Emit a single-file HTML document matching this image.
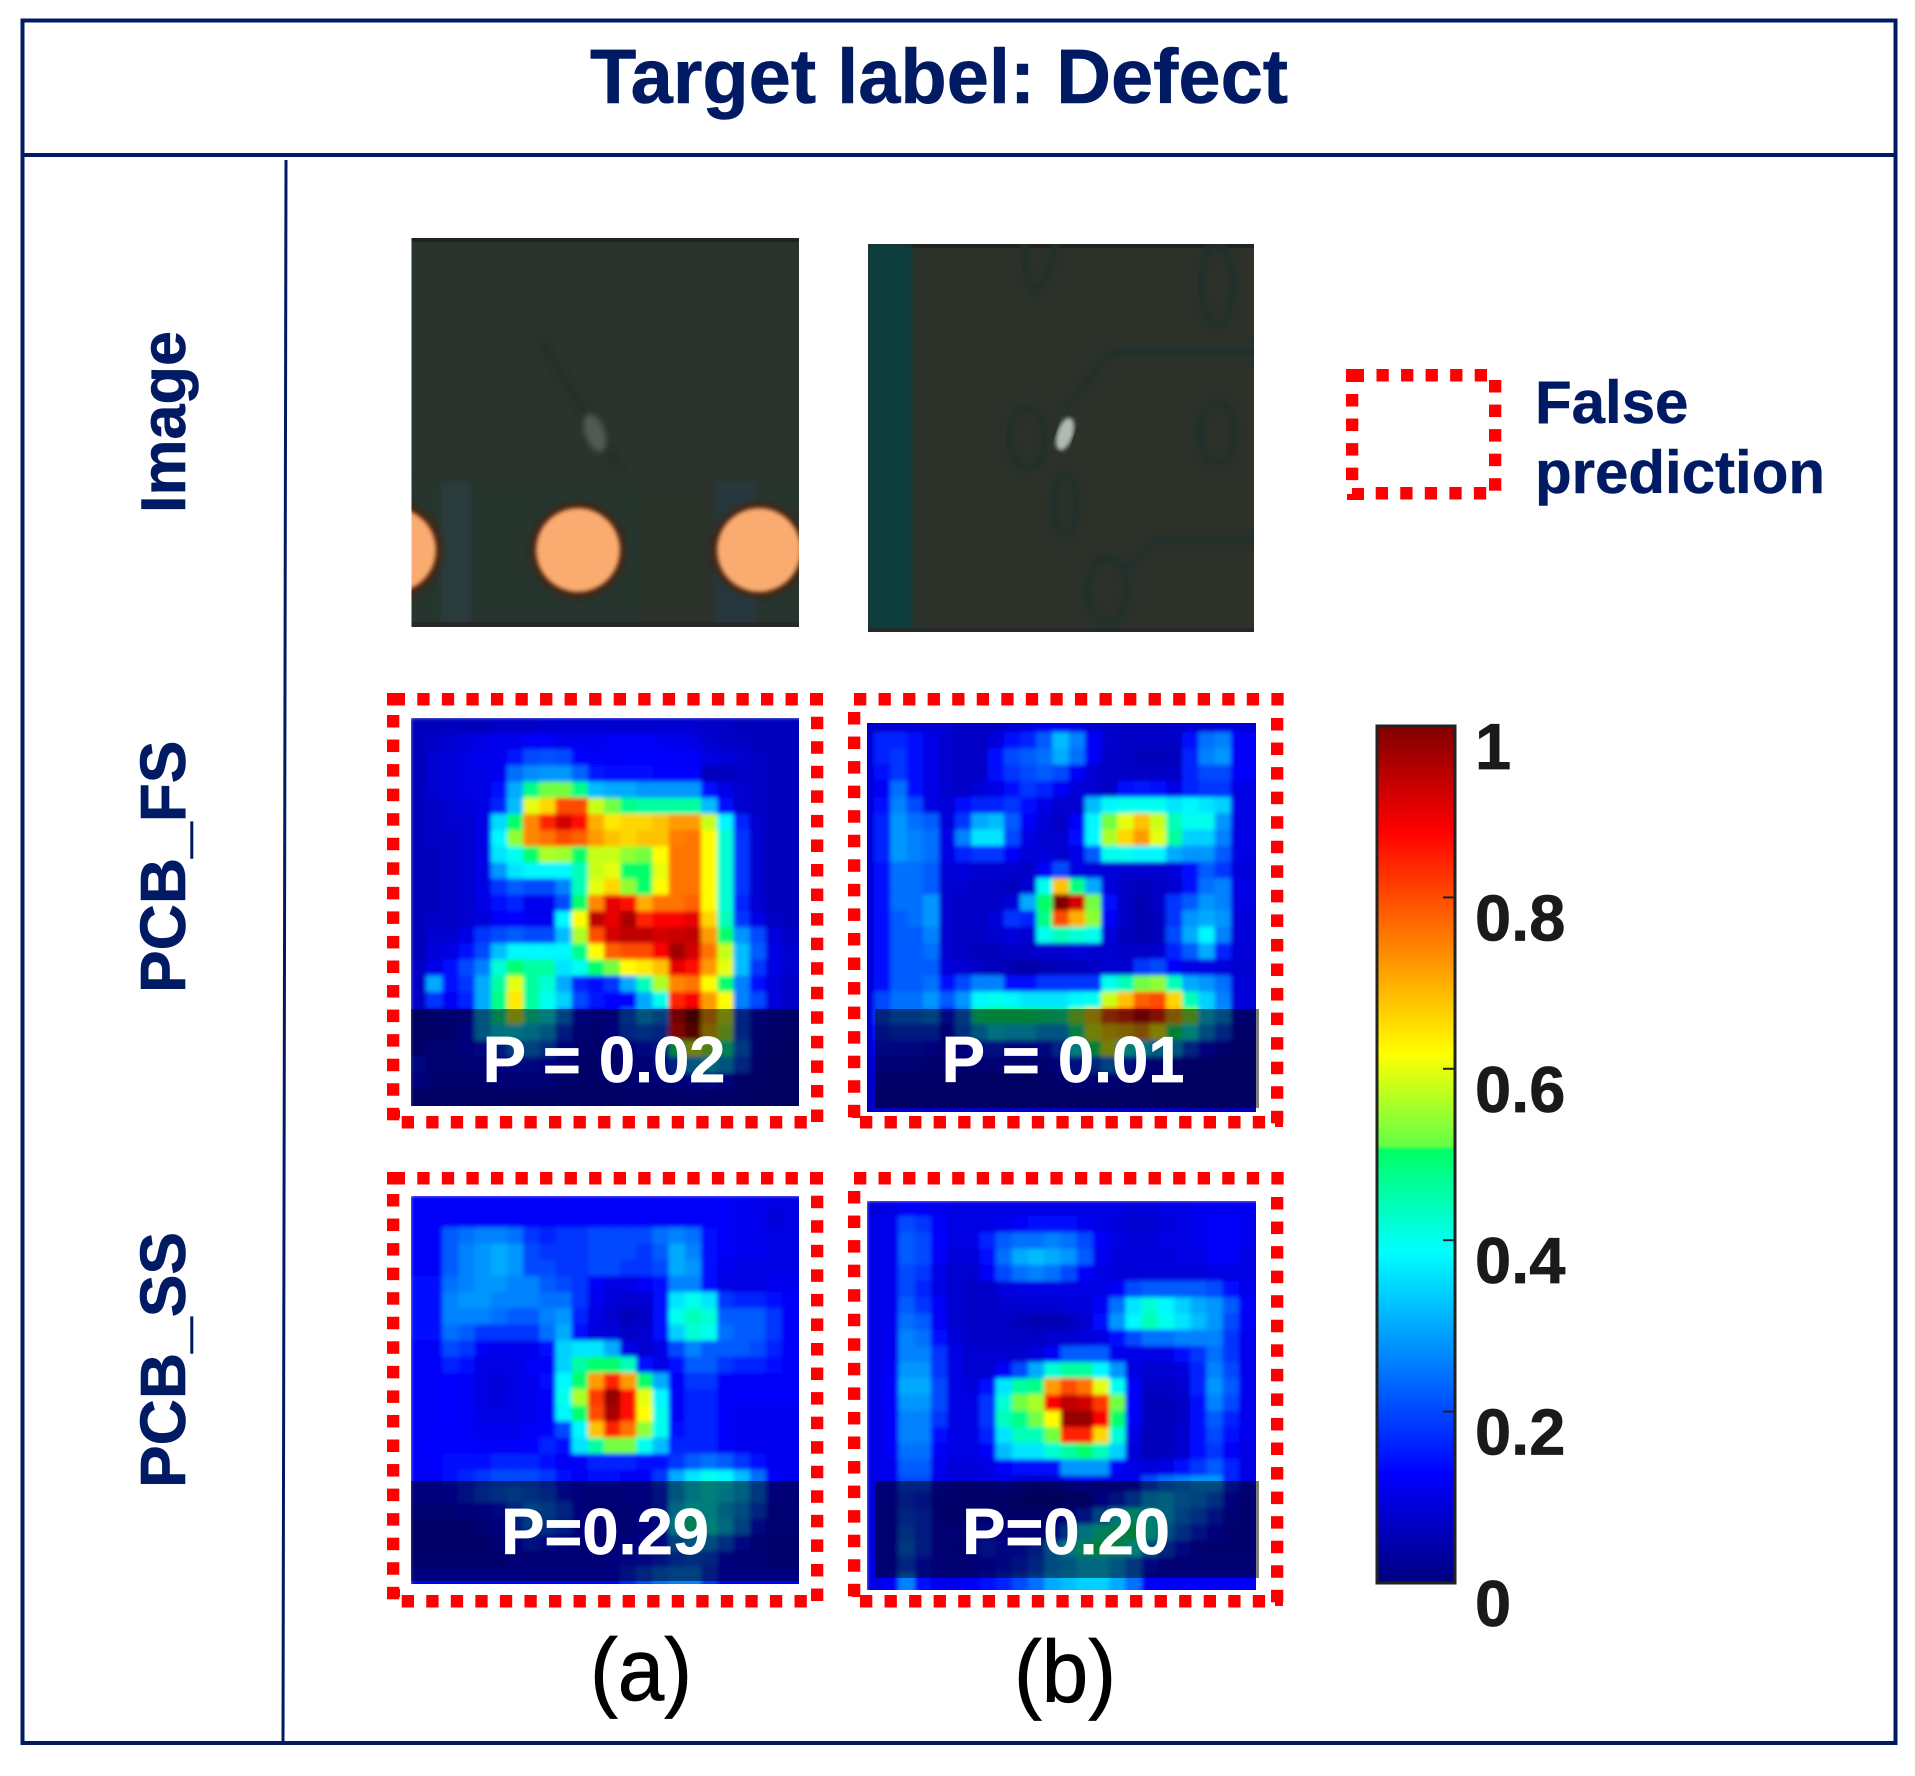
<!DOCTYPE html>
<html lang="en">
<head>
<meta charset="utf-8">
<title>Target label: Defect</title>
<style>
html,body{margin:0;padding:0;background:#fff;}
svg{display:block;font-family:"Liberation Sans",Arial,sans-serif;}
</style>
</head>
<body>
<svg id="fig" xmlns="http://www.w3.org/2000/svg" width="1915" height="1776" viewBox="0 0 1915 1776">
  <defs>
    <filter id="soft" x="-5%" y="-5%" width="110%" height="110%"><feGaussianBlur stdDeviation="2"/></filter>
    <filter id="soft3" x="-20%" y="-20%" width="140%" height="140%"><feGaussianBlur stdDeviation="3"/></filter>
    <filter id="softWide" x="-5%" y="-5%" width="110%" height="110%"><feGaussianBlur stdDeviation="6"/></filter>
    <clipPath id="clip-img-a"><rect x="411.5" y="238" width="387.5" height="389"/></clipPath>
    <clipPath id="clip-img-b"><rect x="868" y="244" width="386" height="388"/></clipPath>
    <linearGradient id="jet-gradient" x1="0" y1="1" x2="0" y2="0"></linearGradient>
  </defs>

  <rect x="22.5" y="20.5" width="1873" height="1722.5" fill="none" stroke="#001a63" stroke-width="4"/>
  <line x1="22" y1="155" x2="1895" y2="155" stroke="#001a63" stroke-width="4"/>
  <line x1="286" y1="160" x2="283" y2="1743" stroke="#001a63" stroke-width="3"/>

  <text x="590" y="103" font-size="77" font-weight="700" fill="#001a63" stroke="#001a63" stroke-width="0.6" textLength="698" lengthAdjust="spacingAndGlyphs">Target label: Defect</text>

  <text transform="translate(185,513) rotate(-90)" font-size="63" font-weight="700" fill="#001a63" stroke="#001a63" stroke-width="0.6">Image</text>
  <text transform="translate(185,993) rotate(-90)" font-size="64" font-weight="700" fill="#001a63" stroke="#001a63" stroke-width="0.6">PCB_FS</text>
  <text transform="translate(185,1488) rotate(-90)" font-size="64" font-weight="700" fill="#001a63" stroke="#001a63" stroke-width="0.6">PCB_SS</text>

  <!-- source image a -->
  <g clip-path="url(#clip-img-a)">
    <rect x="411" y="238" width="389" height="389" fill="#2a332c"/>
    <rect x="411" y="238" width="389" height="4" fill="#1f2421"/>
    <g filter="url(#soft3)">
      <rect x="411" y="482" width="389" height="150" fill="#27342f"/>
      <rect x="440" y="482" width="30" height="150" fill="#2a3a3a"/>
      <rect x="640" y="482" width="90" height="150" fill="#2b332b"/>
      <rect x="715" y="482" width="40" height="150" fill="#27383c"/>
    </g>
    <rect x="411" y="622" width="389" height="5" fill="#26282a"/>
    <line x1="540" y1="340" x2="620" y2="470" stroke="#262e28" stroke-width="8" filter="url(#soft3)"/>
    <ellipse cx="595" cy="433" rx="10" ry="20" fill="#4f5a54" filter="url(#soft3)" transform="rotate(-20 595 433)"/>
    <circle cx="394" cy="550" r="48" fill="#4a2410" filter="url(#soft3)"/>
    <circle cx="578" cy="550" r="47" fill="#4a2410" filter="url(#soft3)"/>
    <circle cx="759" cy="550" r="47" fill="#4a2410" filter="url(#soft3)"/>
    <circle cx="394" cy="550" r="42" fill="#f9ab70" filter="url(#soft)"/>
    <circle cx="578" cy="550" r="42" fill="#f9ab70" filter="url(#soft)"/>
    <circle cx="759" cy="550" r="42" fill="#f9ab70" filter="url(#soft)"/>
  </g>

  <!-- source image b -->
  <g clip-path="url(#clip-img-b)">
    <rect x="868" y="244" width="386" height="388" fill="#2c322a"/>
    <rect x="868" y="244" width="386" height="4" fill="#1f2421"/>
    <rect x="868" y="244" width="44" height="388" fill="#0f3d3c" filter="url(#soft)"/>
    <rect x="868" y="628" width="386" height="4" fill="#26282a"/>
    <g transform="translate(-5,0)" fill="none" stroke="#222e2a" stroke-width="8" filter="url(#soft3)">
      <path d="M1030 240 Q1028 285 1040 292 Q1052 285 1062 240"/>
      <ellipse cx="1222" cy="285" rx="16" ry="40"/>
      <path d="M1262 352 L1125 352 Q1110 352 1100 372 L1070 410"/>
      <ellipse cx="1032" cy="438" rx="18" ry="30"/>
      <ellipse cx="1222" cy="433" rx="18" ry="30"/>
      <path d="M1262 540 L1160 540 L1125 575"/>
      <ellipse cx="1112" cy="590" rx="20" ry="32"/>
      <ellipse cx="1070" cy="505" rx="12" ry="30"/>
    </g>
    <path d="M1100 330 L1217 330" stroke="#2a2a34" stroke-width="12" filter="url(#soft3)"/>
    <ellipse cx="1065" cy="434" rx="8" ry="17" fill="#b0bcb2" filter="url(#soft)" transform="rotate(18 1065 434)"/>
  </g>

  <!-- legend text -->
  <g id="legend-swatch"></g>
  <text x="1535" y="423" font-size="60" font-weight="700" fill="#001a63" stroke="#001a63" stroke-width="0.5">False</text>
  <text x="1535" y="493" font-size="60" font-weight="700" fill="#001a63" stroke="#001a63" stroke-width="0.5">prediction</text>

  <g id="heatmaps"></g>
  <g id="frames"></g>

  <g id="colorbar"></g>

  <text x="590" y="1700" font-size="88" fill="#000" stroke="#000" stroke-width="0.8" textLength="102" lengthAdjust="spacingAndGlyphs">(a)</text>
  <text x="1014" y="1702" font-size="88" fill="#000" stroke="#000" stroke-width="0.8" textLength="102" lengthAdjust="spacingAndGlyphs">(b)</text>
</svg>

<script>
const colorbarTicks = [1, 0.8, 0.6, 0.4, 0.2, 0];
const colorbarTickLabels = ["1", "0.8", "0.6", "0.4", "0.2", "0"];

const fsImageA = [
[6,6,6,6,6,7,7,7,8,8,8,8,8,8,8,8,8,8,7,7,6,6,6,6],
[6,7,8,9,10,11,11,12,12,11,11,11,12,12,12,11,11,10,8,7,7,6,6,6],
[6,8,9,10,11,11,15,20,21,20,13,12,12,13,13,13,12,12,10,9,8,7,6,6],
[6,8,9,10,10,11,24,27,28,28,23,15,14,14,14,13,13,13,6,6,7,7,6,6],
[6,8,9,10,10,14,30,48,52,52,48,32,30,30,28,28,28,28,14,10,8,7,6,6],
[6,7,8,9,10,16,32,60,66,80,80,58,52,48,46,46,46,46,32,14,8,7,6,6],
[6,7,8,8,10,35,50,74,84,92,86,70,64,66,66,68,72,72,58,38,16,8,6,6],
[6,7,7,8,10,38,54,74,76,80,78,72,68,66,68,68,75,76,62,42,18,8,6,6],
[6,6,7,8,10,36,40,50,56,55,50,58,58,54,52,62,76,76,62,42,18,8,6,6],
[6,6,7,8,10,28,36,38,38,38,44,58,60,50,50,60,76,76,62,42,18,8,6,6],
[6,6,7,8,10,18,22,20,20,26,44,60,66,54,50,62,76,76,62,42,18,8,6,6],
[6,6,7,8,10,14,16,11,11,20,50,74,90,86,70,76,76,78,62,42,16,8,6,6],
[6,7,7,8,9,12,13,11,11,38,62,94,90,96,84,88,88,90,66,44,18,10,7,6],
[6,8,8,10,18,20,22,20,20,32,56,80,92,94,94,92,93,94,72,50,28,20,9,7],
[6,9,10,14,20,32,38,38,38,38,48,62,78,80,80,88,97,92,76,58,32,22,10,8],
[7,10,14,20,26,42,50,46,46,36,40,50,52,62,64,68,90,86,72,60,32,18,10,8],
[7,30,14,18,30,46,60,46,42,30,16,14,18,30,44,56,74,76,62,50,26,14,9,7],
[7,18,12,16,30,48,64,46,40,34,20,15,13,13,30,40,84,88,72,62,26,20,9,7],
[7,8,9,10,30,46,60,44,38,26,12,10,10,22,30,26,90,100,72,60,20,10,8,7],
[7,8,9,12,30,36,36,34,30,18,10,9,12,20,22,20,86,96,68,56,20,9,8,7],
[8,10,10,12,14,18,26,26,22,12,9,9,9,12,14,16,50,60,55,45,24,9,7,6],
[14,10,10,10,10,12,14,14,12,10,8,8,8,10,10,14,20,30,34,30,20,8,7,6],
[12,9,9,9,9,10,10,10,10,9,8,8,8,9,10,10,12,12,14,12,8,7,6,6],
[7,7,7,7,7,7,7,7,7,7,7,7,7,8,8,8,8,8,8,8,7,7,6,6]
];

const fsImageB = [
[7,8,8,8,8,8,7,7,7,8,10,11,11,10,8,7,7,7,7,7,8,8,9,9],
[9,16,16,14,10,8,7,7,9,14,16,22,32,26,12,8,7,7,7,7,14,24,26,12],
[9,16,18,14,10,8,7,7,14,20,22,24,30,24,12,7,7,6,6,6,16,26,28,12],
[9,14,18,14,10,8,7,7,14,18,20,22,20,12,8,7,7,7,7,7,16,20,20,12],
[9,12,24,14,10,8,7,9,10,14,18,16,12,9,8,7,14,15,14,10,16,18,18,10],
[9,14,26,20,10,9,14,16,16,18,14,10,8,8,32,38,40,40,40,36,38,36,34,10],
[9,16,28,24,22,9,18,30,32,22,12,9,7,12,38,52,60,68,58,44,40,40,28,10],
[9,16,28,26,24,10,26,36,36,20,10,8,8,14,38,56,66,72,60,46,34,34,26,10],
[9,16,28,26,24,10,16,18,18,12,9,9,8,10,22,40,40,38,38,30,28,28,22,10],
[9,14,24,24,22,9,9,8,8,8,7,12,20,10,9,9,8,8,8,9,14,22,18,9],
[9,14,24,24,22,8,8,7,7,6,8,40,68,48,30,9,7,6,7,8,14,24,26,10],
[9,14,24,24,28,8,7,7,7,9,30,50,100,92,52,14,7,5,7,18,22,28,26,10],
[9,14,22,24,28,8,7,7,9,18,16,48,80,70,54,12,7,5,6,18,28,30,28,9],
[9,14,22,22,26,8,7,7,8,9,8,40,44,42,40,9,6,5,6,20,30,38,26,9],
[9,14,22,22,24,8,7,6,6,7,7,8,8,9,8,8,7,7,8,16,22,30,16,9],
[9,14,22,22,22,9,8,7,6,5,4,5,6,6,7,8,8,18,20,12,10,10,9,8],
[9,14,22,22,24,14,20,26,26,14,14,18,18,18,18,40,44,52,54,44,30,28,24,9],
[9,20,24,24,28,22,28,38,40,38,36,36,36,38,40,58,68,78,80,66,44,34,26,9],
[9,20,24,24,26,14,24,48,50,50,50,48,46,54,66,80,84,92,84,70,54,34,28,9],
[9,16,18,18,18,10,22,30,36,34,34,30,30,48,60,66,68,72,62,50,40,28,20,8],
[8,14,14,14,12,9,12,16,16,14,14,14,20,38,50,60,40,36,32,30,20,12,9,7],
[7,10,10,10,9,8,9,10,10,9,9,9,12,16,20,26,16,12,9,8,7,7,6,6],
[7,8,8,8,8,7,7,7,7,7,7,8,9,10,10,10,9,8,7,6,6,6,6,6],
[7,7,7,7,7,7,7,7,7,7,7,7,7,7,7,7,7,7,7,7,6,6,6,6]
];

const ssImageA = [
[12,12,12,12,12,12,12,12,12,12,12,12,12,12,12,12,12,12,12,12,11,11,10,10],
[12,12,12,12,12,12,12,12,12,12,12,12,12,12,12,12,12,12,12,12,11,11,9,10],
[12,12,22,24,26,26,24,18,16,18,18,20,20,20,20,24,26,24,14,12,11,11,10,10],
[12,12,22,26,28,30,28,20,18,18,18,20,20,20,18,22,30,26,14,12,11,11,10,10],
[12,12,22,26,28,30,28,20,20,18,18,20,20,18,18,20,30,28,14,11,10,10,10,10],
[14,14,24,26,28,28,26,26,22,20,18,12,10,10,12,14,26,26,14,10,10,10,11,11],
[14,14,26,28,28,26,26,26,24,24,18,11,9,8,8,14,36,40,36,18,16,16,14,12],
[14,14,26,26,26,24,22,22,26,28,16,10,8,6,7,14,40,44,42,22,22,22,18,12],
[14,14,24,22,18,18,18,18,24,30,14,9,9,7,8,14,34,42,40,24,22,22,18,12],
[12,12,20,18,12,11,11,11,14,34,36,36,30,10,8,10,20,26,22,22,22,20,16,12],
[12,12,16,14,10,10,10,12,12,34,46,50,50,44,14,10,14,22,22,18,16,16,14,12],
[12,12,13,12,10,9,10,11,14,38,50,72,84,72,50,30,12,18,18,12,12,12,12,12],
[12,12,13,12,10,9,10,11,12,40,56,82,98,86,60,38,12,16,16,12,12,12,12,12],
[12,12,13,12,10,10,10,11,12,38,50,80,96,86,62,40,12,16,16,12,11,11,11,11],
[12,12,13,12,11,11,11,12,13,20,38,68,84,76,54,40,14,16,16,12,11,11,11,11],
[12,13,13,13,12,12,12,13,16,14,36,46,52,52,40,32,16,16,16,12,11,11,11,11],
[12,13,14,14,14,16,16,16,14,12,12,16,16,16,14,14,18,22,24,22,18,14,11,11],
[12,12,14,16,18,20,20,20,18,14,12,14,14,12,12,18,30,36,40,38,32,24,12,11],
[12,12,13,16,20,22,24,22,20,14,12,10,10,12,12,16,30,36,40,36,32,24,12,11],
[10,10,10,12,12,14,20,26,24,20,12,10,10,10,12,16,34,40,38,32,28,20,10,10],
[8,8,8,8,10,12,18,24,22,18,12,10,10,10,12,14,36,46,40,34,26,14,10,10],
[8,8,8,8,8,10,12,16,14,12,10,10,10,12,12,14,26,30,28,22,14,10,9,9],
[9,9,9,9,9,9,10,10,10,10,10,10,12,14,14,16,20,22,20,12,10,10,9,9],
[12,12,12,12,12,12,12,13,13,13,13,13,13,16,20,24,26,26,18,12,12,12,12,12]
];

const ssImageB = [
[9,10,12,12,11,10,10,10,10,10,10,10,10,10,10,10,9,9,10,10,11,11,11,11],
[10,11,20,18,12,10,10,10,11,12,14,14,14,11,10,9,8,8,9,10,11,12,12,11],
[10,11,22,20,13,10,10,16,22,24,24,26,24,20,12,10,9,9,10,10,11,12,12,11],
[10,11,22,20,12,9,9,14,24,30,32,30,28,22,11,9,9,9,9,10,10,12,12,10],
[10,11,20,18,10,8,8,12,20,24,26,24,20,12,10,9,9,9,9,9,9,10,10,10],
[10,11,20,16,10,8,7,7,9,10,10,10,10,10,10,12,20,22,22,22,22,20,14,11],
[10,11,22,18,12,8,7,7,8,8,8,8,9,9,12,24,36,42,38,34,30,28,22,12],
[10,11,24,22,12,8,7,7,7,6,5,5,6,8,14,28,38,44,40,36,32,28,20,12],
[10,11,26,24,14,9,7,7,7,7,7,8,8,9,10,14,20,24,24,26,26,26,18,11],
[10,11,26,26,18,10,8,8,8,8,9,12,22,22,22,11,10,10,10,14,18,24,18,11],
[10,12,28,28,18,10,8,8,12,20,30,42,46,46,38,28,10,8,8,9,16,26,20,11],
[10,12,30,30,20,10,9,14,36,46,48,72,80,76,60,40,12,7,7,8,16,28,22,11],
[10,12,28,28,20,10,10,18,42,52,56,88,94,92,82,52,12,6,6,7,14,26,20,11],
[10,12,26,26,18,10,10,18,44,48,52,62,98,98,88,50,12,6,6,7,14,22,16,11],
[10,12,26,26,14,10,10,16,36,44,44,52,84,84,66,42,10,6,6,8,14,20,14,11],
[10,12,24,24,12,10,10,12,32,36,36,42,46,50,44,34,9,6,6,8,14,18,12,10],
[10,11,22,22,11,9,9,10,12,14,14,14,28,28,28,12,10,9,10,14,18,22,16,10],
[10,11,20,20,10,9,9,9,10,8,7,8,10,12,10,10,10,20,24,26,28,28,16,10],
[9,10,18,16,9,8,8,8,7,6,5,5,6,6,12,16,22,30,32,28,26,22,12,9],
[9,10,20,18,9,8,9,9,8,8,8,8,10,16,26,36,44,40,32,26,22,16,10,9],
[9,10,22,18,10,10,12,14,12,10,10,14,22,36,44,48,50,42,28,22,16,12,9,9],
[9,10,24,18,10,9,12,16,14,14,18,28,36,46,50,48,40,28,20,14,10,9,9,9],
[10,10,20,14,10,10,10,12,14,16,20,28,30,34,34,30,24,14,10,10,10,10,10,10],
[10,12,26,14,11,11,12,14,16,20,24,30,32,34,34,30,24,12,12,12,12,12,12,12]
];

const panelTitles = ["P = 0.02", "P = 0.01", "P=0.29", "P=0.20"];

const NS = "http://www.w3.org/2000/svg";
const jetStops = [
  [0,0,0,128],[0.127,0,0,255],[0.387,0,255,255],[0.505,0,255,100],
  [0.51,100,255,70],[0.618,255,255,0],[0.877,255,0,0],[1,128,0,0]
];
function jet(v){
  v=Math.max(0,Math.min(1,v));
  for(let i=1;i<jetStops.length;i++){
    const a=jetStops[i-1],b=jetStops[i];
    if(v<=b[0]){
      const t=(v-a[0])/(b[0]-a[0]);
      return "rgb("+Math.round(a[1]+(b[1]-a[1])*t)+","+Math.round(a[2]+(b[2]-a[2])*t)+","+Math.round(a[3]+(b[3]-a[3])*t)+")";
    }
  }
  return "rgb(128,0,0)";
}
function mk(tag,attrs,parent){
  const e=document.createElementNS(NS,tag);
  for(const k in attrs)e.setAttribute(k,attrs[k]);
  if(parent)parent.appendChild(e);
  return e;
}

/* gradient */
const grad=document.getElementById("jet-gradient");
jetStops.forEach(function(s){
  mk("stop",{offset:s[0],"stop-color":"rgb("+s[1]+","+s[2]+","+s[3]+")"},grad);
});

/* heatmaps */
const heatRoot=document.getElementById("heatmaps");
const defs=document.querySelector("defs");
function heatmap(name,values,label,box,overlay,textX,textY,gridDx,gridDy){
  const g=mk("g",{},heatRoot);
  
  
  const cid="clip-"+name;
  const cp=mk("clipPath",{id:cid},defs);
  mk("rect",{x:box.x,y:box.y,width:box.s,height:box.s},cp);
  const clipG=mk("g",{"clip-path":"url(#"+cid+")"},g);
  const cells=mk("g",{filter:"url(#soft)"},clipG);
  const nCols=values[0].length, nRows=values.length;
  const cw=box.s/nCols, ch=box.s/nRows;
  values.forEach(function(row,r){
    row.forEach(function(v,c){
      const extraW=c===nCols-1?Math.abs(gridDx)+6:0;
      const extraH=r===nRows-1?Math.abs(gridDy)+6:0;
      const cell=mk("rect",{x:box.x+gridDx+c*cw-1,y:box.y+gridDy+r*ch-1,width:cw+2+extraW,height:ch+2+extraH,fill:jet(v/100)},cells);
      
      
    });
  });
  const ov=mk("rect",{x:overlay.x,y:overlay.y,width:overlay.w,height:overlay.h,fill:"#000","fill-opacity":"0.5"},g);
  
  
  const t=mk("text",{x:textX,y:textY,"text-anchor":"middle","font-size":65,"font-weight":700,fill:"#fff",stroke:"#fff","stroke-width":0.7},g);
  
  
  t.textContent=label;
}
heatmap("heatmap-fs-a",fsImageA,panelTitles[0],{x:411,y:718,s:388},{x:411,y:1009,w:388,h:97},604,1082,0,0);
heatmap("heatmap-fs-b",fsImageB,panelTitles[1],{x:867,y:723,s:389},{x:875,y:1009,w:384,h:99},1063,1082,-8,-6);
heatmap("heatmap-ss-a",ssImageA,panelTitles[2],{x:411,y:1196,s:388},{x:411,y:1481,w:388,h:100},605,1554,0,0);
heatmap("heatmap-ss-b",ssImageB,panelTitles[3],{x:867,y:1201,s:389},{x:875,y:1481,w:384,h:97},1066,1554,0,0);

/* dotted red frames */
const STEP=24.55;
function side(g,x,y,n,horizontal){
  for(let i=0;i<n;i++){
    const d=i*STEP;
    mk("rect",{x:horizontal?x+d:x,y:horizontal?y:y+d,width:12.3,height:12.5,fill:"#f00"},g);
  }
}
function frame(name,root,dy,f){
  const g=mk("g",{transform:"translate(0,"+dy+")"},root);
  
  
  side(g,f.topX,f.top,f.topN,true);
  side(g,f.left,f.leftY,f.leftN,false);
  side(g,f.botX,f.bot,f.botN,true);
  side(g,f.right,f.rightY,f.rightN,false);
  f.corners.forEach(function(c){mk("rect",{x:c[0],y:c[1],width:c[2],height:c[3],fill:"#f00"},g);});
}
const frameRoot=document.getElementById("frames");
const frameA={topX:417.3,top:693,topN:16,left:387,leftY:715,leftN:17,botX:401.7,bot:1116,botN:17,right:811,rightY:716.7,rightN:17,
  corners:[[387,693,18,12.5],[810,693,13,12.5],[392,1110,8,8]]};
const frameB={topX:854,top:693,topN:18,left:848,leftY:712,leftN:17,botX:860,bot:1116,botN:17,right:1271,rightY:718,rightN:17,
  corners:[[852,1110,8,8],[1275,1116,8,11]]};
frame("frame-fs-a",frameRoot,0,frameA);
frame("frame-fs-b",frameRoot,0,frameB);
frame("frame-ss-a",frameRoot,479,frameA);
frame("frame-ss-b",frameRoot,479,frameB);

/* legend swatch */
const legend=document.getElementById("legend-swatch");
side(legend,1376.5,369,5,true);
side(legend,1346,394,4,false);
side(legend,1375.7,487,5,true);
side(legend,1489,380,5,false);
mk("rect",{x:1346,y:369,width:18,height:13,fill:"#f00"},legend);
mk("rect",{x:1347,y:494,width:17,height:6,fill:"#f00"},legend);
mk("rect",{x:1352,y:488,width:12,height:8,fill:"#f00"},legend);

/* colorbar */
const cb=document.getElementById("colorbar");
const barTop=726, barBottom=1583, barLeft=1377, barRight=1455;
function yScale(v){return barBottom-(barBottom-barTop)*v;}
const bar=mk("rect",{x:barLeft,y:barTop,width:barRight-barLeft,height:barBottom-barTop,fill:"url(#jet-gradient)",stroke:"#222","stroke-width":3},cb);


colorbarTicks.forEach(function(v,i){
  if(v>0&&v<1){
    const tick=mk("line",{x1:barRight-12,x2:barRight,y1:yScale(v),y2:yScale(v),stroke:"#222","stroke-width":2},cb);
    
    
  }
  const lab=mk("text",{x:1475,y:yScale(v)+43,"font-size":65,"font-weight":700,fill:"#1a1a1a",stroke:"#1a1a1a","stroke-width":0.7},cb);
  
  
  lab.textContent=colorbarTickLabels[i];
});
</script>
</body>
</html>
